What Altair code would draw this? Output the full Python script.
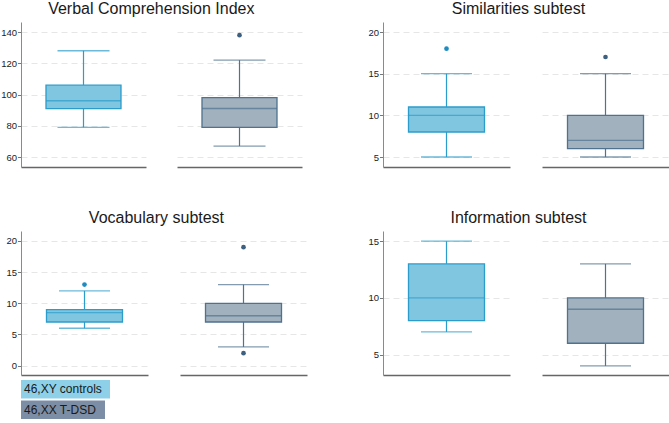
import altair as alt
import pandas as pd

groups = ["46,XY controls", "46,XX T-DSD"]
titles = ["Verbal Comprehension Index", "Similarities subtest",
          "Vocabulary subtest", "Information subtest"]

# five-number summaries: lower whisker, Q1, median, Q3, upper whisker
vci_ctrl = [79, 91, 96, 106, 128]
vci_tdsd = [67, 79, 91, 98, 122]
sim_ctrl = [5, 8, 10, 11, 15]
sim_tdsd = [5, 6, 7, 10, 15]
voc_ctrl = [6, 7, 8.5, 9, 12]
voc_tdsd = [3, 7, 8, 10, 13]
inf_ctrl = [7, 8, 10, 13, 15]
inf_tdsd = [4, 6, 9, 10, 13]

# observations beyond the whiskers, per group
vci_out = [[], [138]]
sim_out = [[18], [17]]
voc_out = [[13], [19, 2]]
inf_out = [[], []]

# y axis tick values and ranges
vci_ticks = [60, 80, 100, 120, 140]
sim_ticks = [5, 10, 15, 20]
voc_ticks = [0, 5, 10, 15, 20]
inf_ticks = [5, 10, 15]
vci_range = [53.6, 146.4]
sim_range = [3.8, 21.2]
voc_range = [-1.5, 21.6]
inf_range = [3.2, 15.9]

FONT = "Liberation Sans"
BOX_FILL = ["#80c6e0", "#a1b1be"]
BOX_LINE = ["#2c9ccb", "#4f7290"]
DOT = ["#1f8cc0", "#3e6080"]
KEY_FILL = ["#8dd0e7", "#7c8ea5"]
KEY_WIDTH = [89, 84]


def subpanel(gi, stats, outliers, yrange, ticks, width, height, box_w, cap_w, first):
    g = groups[gi]
    summary = pd.DataFrame([{
        "group": g, "lower": stats[0], "q1": stats[1], "median": stats[2],
        "q3": stats[3], "upper": stats[4],
    }])
    x = alt.X("group:N", title=None,
              scale=alt.Scale(paddingInner=0, paddingOuter=0),
              axis=alt.Axis(labels=False, ticks=False, domain=True, grid=False,
                            domainColor="#666666", domainWidth=1.4))
    yscale = alt.Scale(domain=yrange, nice=False, zero=False)
    if first:
        yaxis = alt.Axis(values=ticks, title=None, tickSize=3.5, labelPadding=1,
                         labelFontSize=9.5, labelFont=FONT, labelColor="#222222",
                         tickColor="#777777", domainColor="#8a8a8a", domainWidth=1,
                         grid=True, gridDash=[6, 4], gridColor="#e6e6e6")
    else:
        yaxis = alt.Axis(values=ticks, title=None, labels=False, ticks=False,
                         domain=False, grid=True, gridDash=[6, 4], gridColor="#e6e6e6")

    def Y(field):
        return alt.Y(field, title=None, scale=yscale, axis=yaxis)

    base = alt.Chart(summary)
    line = BOX_LINE[gi]
    layers = [
        base.mark_rule(color=line, strokeWidth=1.2).encode(x=x, y=Y("q3:Q"), y2="upper:Q"),
        base.mark_rule(color=line, strokeWidth=1.2).encode(x=x, y=Y("lower:Q"), y2="q1:Q"),
        base.mark_tick(color=line, size=cap_w, thickness=1.3).encode(x=x, y=Y("upper:Q")),
        base.mark_tick(color=line, size=cap_w, thickness=1.3).encode(x=x, y=Y("lower:Q")),
        base.mark_bar(size=box_w, fill=BOX_FILL[gi], stroke=line, strokeWidth=1.3)
            .encode(x=x, y=Y("q1:Q"), y2="q3:Q"),
        base.mark_tick(color=line, size=box_w, thickness=1.4).encode(x=x, y=Y("median:Q")),
    ]
    if outliers:
        pts = pd.DataFrame({"group": [g] * len(outliers), "value": outliers})
        layers.append(
            alt.Chart(pts).mark_point(filled=True, size=22, color=DOT[gi], opacity=1)
            .encode(x=x, y=Y("value:Q"))
        )
    return alt.layer(*layers).properties(width=width, height=height)


def panel(title, ctrl, tdsd, outs, yrange, ticks, width, height, gap, box_w, cap_w):
    left = subpanel(0, ctrl, outs[0], yrange, ticks, width, height, box_w, cap_w, True)
    right = subpanel(1, tdsd, outs[1], yrange, ticks, width, height, box_w, cap_w, False)
    return alt.hconcat(left, right, spacing=gap,
                       title=alt.TitleParams(title, anchor="middle", fontSize=16,
                                             font=FONT, fontWeight="normal",
                                             color="#1a1a1a", offset=5.5))


p1 = panel(titles[0], vci_ctrl, vci_tdsd, vci_out, vci_range, vci_ticks, 125, 145, 31, 75, 52)
p2 = panel(titles[1], sim_ctrl, sim_tdsd, sim_out, sim_range, sim_ticks, 127, 145, 32, 76, 51)
p3 = panel(titles[2], voc_ctrl, voc_tdsd, voc_out, voc_range, voc_ticks, 127, 144, 32, 76, 51)
p4 = panel(titles[3], inf_ctrl, inf_tdsd, inf_out, inf_range, inf_ticks, 127, 144, 32, 76, 51)

# key: coloured label blocks under the bottom-left panel
key_df = pd.DataFrame({"group": groups})
key_y = alt.Y("group:N", sort=groups, axis=None,
              scale=alt.Scale(domain=groups, paddingInner=0.1, paddingOuter=0))
key_layers = []
for g, c, w in zip(groups, KEY_FILL, KEY_WIDTH):
    key_layers.append(
        alt.Chart(key_df).transform_filter(alt.datum.group == g)
        .mark_rect(color=c).encode(x=alt.value(0), x2=alt.value(w), y=key_y)
    )
key_layers.append(
    alt.Chart(key_df).mark_text(align="left", baseline="middle", fontSize=12,
                                font=FONT, color="#1a1a1a")
    .encode(x=alt.value(3), y=key_y, text="group:N")
)
key = alt.layer(*key_layers).properties(width=110, height=39)

row1 = alt.hconcat(p1, p2, spacing=65)
row2 = alt.hconcat(p3, p4, spacing=60)
bottom = alt.vconcat(row2, key, spacing=5)

chart = (
    alt.vconcat(row1, bottom, spacing=42)
    .properties(background="white",
                padding={"left": 0, "top": 0, "right": 0, "bottom": 0})
    .configure_view(strokeWidth=0, stroke="transparent")
)

chart.save("out.html", embed_options={"renderer": "svg", "actions": False})
